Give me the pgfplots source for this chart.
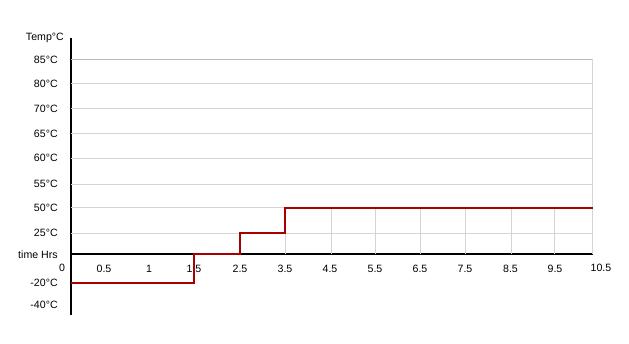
\documentclass[border=0pt]{standalone}
\usepackage{pgfplots}
\pgfplotsset{compat=1.18}
\usepackage{fontspec}
\setmainfont{Liberation Sans}
\definecolor{stepred}{HTML}{A80000}
\definecolor{gridgray}{HTML}{D4D4D4}
\definecolor{topgray}{HTML}{BBBBBB}
\begin{document}
\begin{tikzpicture}
\begin{axis}[
  x=1pt, y=1pt,
  xmin=0, xmax=521.7, ymin=-60.7, ymax=216.3,
  axis x line=middle, axis y line=left,
  axis line style={-, black, line width=1.8pt},
  clip=false,
  tick style={draw=none},
  font=\fontsize{10.6}{12}\selectfont,
  xtick={33,78,123,169,214,259,304,349,394,439.5,484},
  xticklabels={0.5,1,1.5,2.5,3.5,4.5,5.5,6.5,7.5,8.5,9.5},
  xticklabel style={anchor=north, inner sep=0pt, yshift=-8.5pt},
  ytick={-50.7,-29,0,21,46.3,70,96,120.6,145.3,170.6,194.3},
  yticklabels={-40°C,-20°C,time Hrs,25°C,50°C,55°C,60°C,65°C,70°C,80°C,85°C},
  yticklabel style={anchor=east, inner sep=0pt, xshift=-11pt},
]
% horizontal grid lines
\draw[gridgray, line width=1pt] (axis cs:0,21) -- (axis cs:521.7,21);
\draw[gridgray, line width=1pt] (axis cs:0,46.3) -- (axis cs:521.7,46.3);
\draw[gridgray, line width=1pt] (axis cs:0,70) -- (axis cs:521.7,70);
\draw[gridgray, line width=1pt] (axis cs:0,96) -- (axis cs:521.7,96);
\draw[gridgray, line width=1pt] (axis cs:0,120.6) -- (axis cs:521.7,120.6);
\draw[gridgray, line width=1pt] (axis cs:0,145.3) -- (axis cs:521.7,145.3);
\draw[gridgray, line width=1pt] (axis cs:0,170.6) -- (axis cs:521.7,170.6);
\draw[topgray, line width=1pt] (axis cs:0,194.3) -- (axis cs:521.7,194.3);
\draw[gridgray, line width=1pt] (axis cs:521.7,0) -- (axis cs:521.7,194.8);
% drop lines under the step
\addplot[ycomb, gridgray, line width=1pt, no markers] coordinates {
  (214,21) (260.7,46.3) (304.3,46.3) (349.3,46.3) (394.3,46.3) (440,46.3) (483.6,46.3)
};
% step series
\addplot[stepred, line width=1.8pt, no markers, line join=miter] coordinates {
  (0,-29) (123,-29) (123,0) (169,0) (169,21) (214,21) (214,46.3) (521.7,46.3)
};
\node[anchor=north, inner sep=0pt, yshift=-10pt, font=\fontsize{10.6}{12}\selectfont] at (axis cs:-9,0) {0};
\node[anchor=north, inner sep=0pt, yshift=-10pt, font=\fontsize{10.6}{12}\selectfont] at (axis cs:530,0) {10.5};
\node[anchor=east, inner sep=0pt, font=\fontsize{10.6}{12}\selectfont] at (axis cs:-7,216.3) {Temp°C};
\coordinate (bl) at (axis cs:-71,-89.7);
\coordinate (tr) at (axis cs:558,254.3);
\end{axis}
\path (bl) rectangle (tr);
\end{tikzpicture}
\end{document}
